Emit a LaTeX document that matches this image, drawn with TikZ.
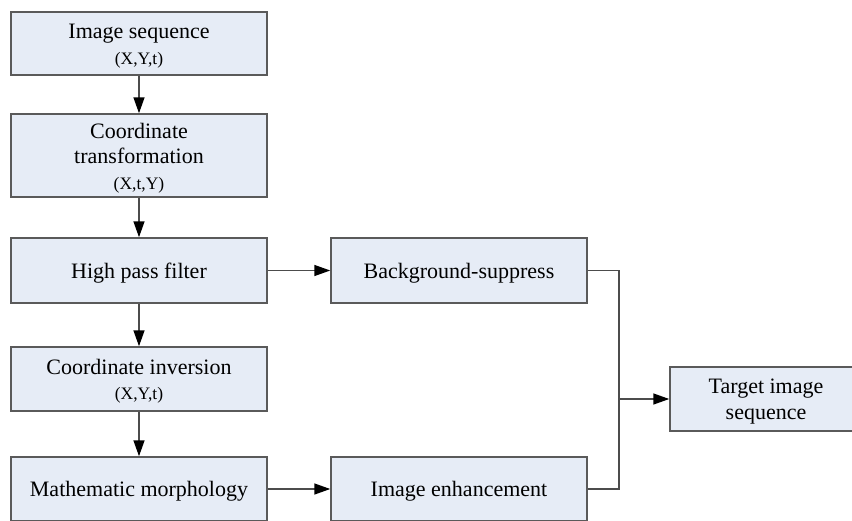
\documentclass[tikz,border=0pt]{standalone}
\usepackage{fontspec}
\setmainfont{Liberation Serif}
\usepackage{xcolor}
\usetikzlibrary{arrows.meta}

\definecolor{boxfill}{RGB}{230,236,246}
\definecolor{boxline}{RGB}{90,90,90}
\newcommand{\subtxt}[1]{{\fontsize{17.5}{25}\selectfont #1}}
\newcommand{\lift}{\rule{0pt}{20pt}}

\tikzset{
  stage/.style = {draw = boxline, line width = 1.5pt, fill = boxfill,
    minimum width = 256pt, minimum height = 64pt, inner sep = 0pt,
    align = center, font = \fontsize{22}{25.5}\selectfont},
  conn/.style = {draw = black!70, line width = 1.5pt},
  flow/.style = {conn, -{Triangle[length = 16pt, width = 11pt, color = black]}}
}

\begin{document}
\begin{tikzpicture}[x = 1pt, y = -1pt]
    \useasboundingbox (0, 0) rectangle (852, 520);
    \clip (0, 0) rectangle (852, 520);

    % left column
    \node [stage, minimum height = 63pt] (seq) at (139, 43.5) {\lift Image sequence\\\subtxt{(X,Y,t)}};
    \node [stage, minimum height = 83pt] (trans) at (139, 155.5) {\lift Coordinate\\transformation\\\subtxt{(X,t,Y)}};
    \node [stage, minimum height = 65pt] (hpf) at (139, 270.5) {\lift High pass filter};
    \node [stage] (inv) at (139, 379) {\lift Coordinate inversion\\\subtxt{(X,Y,t)}};
    \node [stage] (morph) at (139, 489) {\lift Mathematic morphology};

    % middle and right
    \node [stage, minimum height = 65pt] (bgs) at (459, 270.5) {\lift Background-suppress};
    \node [stage] (enh) at (459, 489) {\lift Image enhancement};
    \node [stage, minimum width = 192pt] (target) at (766, 399) {\lift Target image\\sequence};
    \coordinate (join) at (619, 399);

    \draw [flow] (seq) -- (trans);
    \draw [flow] (trans) -- (hpf);
    \draw [flow] (hpf) -- (inv);
    \draw [flow] (inv) -- (morph);
    \draw [flow] (hpf) -- (bgs);
    \draw [flow] (morph) -- (enh);

    \draw [conn] (bgs.east) -| (join);
    \draw [conn] (enh.east) -| (join);
    \draw [flow] (join) -- (target);
\end{tikzpicture}
\end{document}
